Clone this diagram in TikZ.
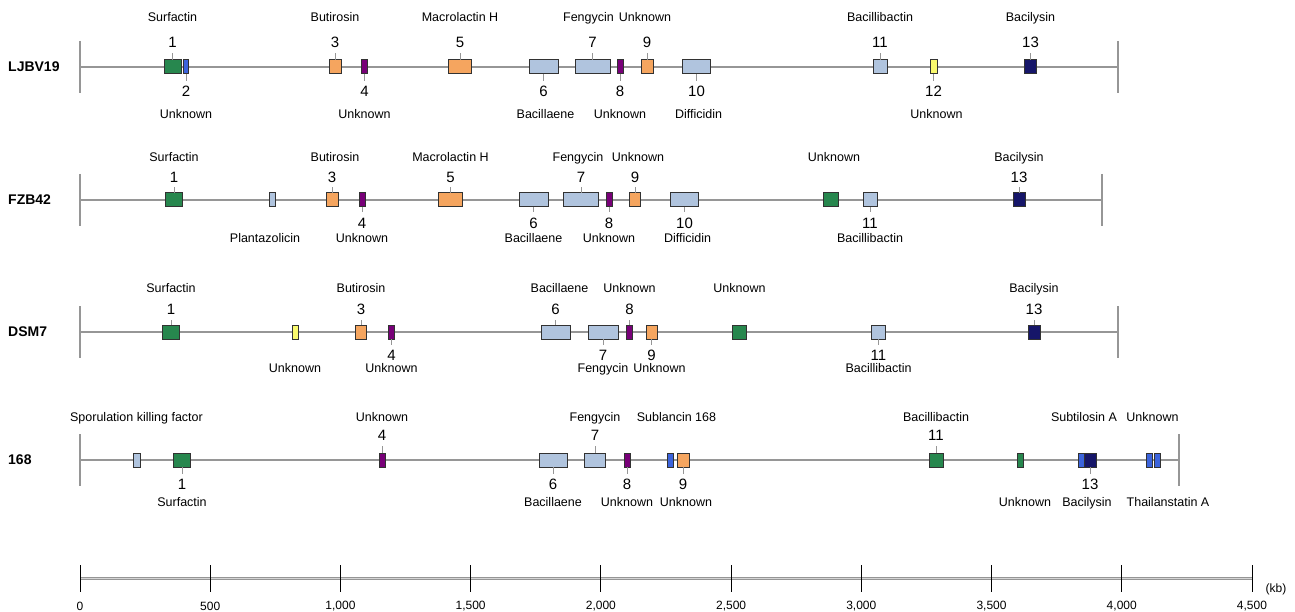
\documentclass[tikz,border=0pt]{standalone}
\usepackage{fontspec}
\setmainfont{Liberation Sans}
\usepackage{tikz}
\usetikzlibrary{positioning}
\definecolor{cgreen}{RGB}{39,135,78}
\definecolor{clblue}{RGB}{176,196,222}
\definecolor{corange}{RGB}{245,165,95}
\definecolor{cpurple}{RGB}{120,0,120}
\definecolor{cnavy}{RGB}{22,22,105}
\definecolor{cblue}{RGB}{60,100,220}
\definecolor{cyellow}{RGB}{250,250,110}
\definecolor{cborder}{RGB}{50,50,50}
\definecolor{cline}{RGB}{150,150,150}

\begin{document}
\begin{tikzpicture}[x=1pt, y=-1pt,
    gene/.style={draw=cborder, line width=1pt, minimum height=14pt, inner sep=0pt, outer sep=0pt},
    genome/.style={draw=cline, line width=1.3pt},
    num/.style={inner sep=0pt, text height=10.7pt, text depth=0pt, font=\fontsize{15}{17}\selectfont},
    cluster/.style={inner sep=0pt, text height=9pt, text depth=0pt, font=\fontsize{12.5}{14}\selectfont},
    ticklink/.style={draw=cline, line width=0.8pt, shorten >=5pt},
    strain/.style={anchor=west, inner sep=0pt, font=\bfseries\fontsize{14}{16}\selectfont},
    scalelab/.style={inner sep=0pt, font=\fontsize{12}{14}\selectfont}]
    \useasboundingbox (0,0) rectangle (1295,612);

    % LJBV19
    \node[strain] (ljbv) at (8,67) {LJBV19};
    \draw[genome] (80,41) -- (80,93);
    \draw[genome] (80,67) -- (1118,67);
    \draw[genome] (1118,41) -- (1118,93);
    \foreach \gid/\gx/\gw/\gcol in {1/172.5/17/cgreen, 2/186/5/cblue, 3/335/12/corange, 4/364.5/6/cpurple,
        5/460/23/corange, 6/543.5/29/clblue, 7/592.5/35/clblue, 8/620/6/cpurple, 9/647/12/corange,
        10/696.5/28/clblue, 11/880/14/clblue, 12/933.5/7/cyellow, 13/1030.5/12/cnavy}
        \node[gene, fill=\gcol, minimum width=\gw pt] (ljbv\gid) at (\gx,67) {};
    \foreach \gid in {1,3,5,7,9,11,13} {
        \node[num, above=12pt of ljbv\gid] (ljbvn\gid) {\gid};
        \draw[ticklink] (ljbv\gid) -- (ljbvn\gid);
    }
    \foreach \gid in {2,4,6,8,10,12} {
        \node[num, below=12pt of ljbv\gid] (ljbvn\gid) {\gid};
        \draw[ticklink] (ljbv\gid) -- (ljbvn\gid);
    }
    \foreach \gid/\gdx/\glab in {1/0/Surfactin, 3/0/Butirosin, 5/0/Macrolactin H, 7/-4/Fengycin,
        9/-2/Unknown, 11/0/Bacillibactin, 13/0/Bacilysin}
        \node[cluster, above=38.5pt of ljbv\gid, xshift=\gdx pt] (ljbvt\gid) {\glab};
    \foreach \gid/\gdx/\glab in {2/0/Unknown, 4/0/Unknown, 6/2/Bacillaene, 8/0/Unknown,
        10/2/Difficidin, 12/3/Unknown}
        \node[cluster, below=35.5pt of ljbv\gid, xshift=\gdx pt] (ljbvt\gid) {\glab};

    % FZB42
    \node[strain] (fzb) at (8,200) {FZB42};
    \draw[genome] (80,174) -- (80,226);
    \draw[genome] (80,200) -- (1102,200);
    \draw[genome] (1102,174) -- (1102,226);
    \foreach \gid/\gx/\gw/\gcol in {1/174/17/cgreen, p/272/6/clblue, 3/332/12/corange, 4/362/6/cpurple,
        5/450.5/24/corange, 6/533.5/29/clblue, 7/581/35/clblue, 8/609/6/cpurple, 9/635/11/corange,
        10/684.5/28/clblue, u/831/15/cgreen, 11/870/14/clblue, 13/1019/12/cnavy}
        \node[gene, fill=\gcol, minimum width=\gw pt] (fzb\gid) at (\gx,200) {};
    \foreach \gid in {1,3,5,7,9,13} {
        \node[num, above=10.5pt of fzb\gid] (fzbn\gid) {\gid};
        \draw[ticklink] (fzb\gid) -- (fzbn\gid);
    }
    \foreach \gid in {4,6,8,10,11} {
        \node[num, below=10.5pt of fzb\gid] (fzbn\gid) {\gid};
        \draw[ticklink] (fzb\gid) -- (fzbn\gid);
    }
    \foreach \gid/\gdx/\glab in {1/0/Surfactin, 3/3/Butirosin, 5/0/Macrolactin H, 7/-3/Fengycin,
        9/3/Unknown, u/3/Unknown, 13/0/Bacilysin}
        \node[cluster, above=31.5pt of fzb\gid, xshift=\gdx pt] (fzbt\gid) {\glab};
    \foreach \gid/\gdx/\glab in {p/-7/Plantazolicin, 4/0/Unknown, 6/0/Bacillaene, 8/0/Unknown,
        10/3/Difficidin, 11/0/Bacillibactin}
        \node[cluster, below=26.5pt of fzb\gid, xshift=\gdx pt] (fzbt\gid) {\glab};

    % DSM7
    \node[strain] (dsm) at (8,332) {DSM7};
    \draw[genome] (80,306) -- (80,358);
    \draw[genome] (80,332) -- (1118,332);
    \draw[genome] (1118,306) -- (1118,358);
    \foreach \gid/\gx/\gw/\gcol in {1/171/17/cgreen, u/295/6/cyellow, 3/361/11.5/corange, 4/391.5/6/cpurple,
        6/555.5/29/clblue, 7/603/30/clblue, 8/629.5/6.5/cpurple, 9/651.5/11/corange,
        v/739.5/14/cgreen, 11/878.5/14/clblue, 13/1034/12/cnavy}
        \node[gene, fill=\gcol, minimum width=\gw pt] (dsm\gid) at (\gx,332) {};
    \foreach \gid in {1,3,6,8,13} {
        \node[num, above=10.5pt of dsm\gid] (dsmn\gid) {\gid};
        \draw[ticklink] (dsm\gid) -- (dsmn\gid);
    }
    \foreach \gid in {4,7,9,11} {
        \node[num, below=10.5pt of dsm\gid] (dsmn\gid) {\gid};
        \draw[ticklink] (dsm\gid) -- (dsmn\gid);
    }
    \foreach \gid/\gdx/\glab in {1/0/Surfactin, 3/0/Butirosin, 6/4/Bacillaene, 8/0/Unknown,
        v/0/Unknown, 13/0/Bacilysin}
        \node[cluster, above=32.5pt of dsm\gid, xshift=\gdx pt] (dsmt\gid) {\glab};
    \foreach \gid/\gdx/\glab in {u/0/Unknown, 4/0/Unknown, 7/0/Fengycin, 9/8/Unknown, 11/0/Bacillibactin}
        \node[cluster, below=24.5pt of dsm\gid, xshift=\gdx pt] (dsmt\gid) {\glab};

    % 168
    \node[strain] (bs) at (8,460) {168};
    \draw[genome] (80,434) -- (80,486);
    \draw[genome] (80,460) -- (1179,460);
    \draw[genome] (1179,434) -- (1179,486);
    \foreach \gid/\gx/\gw/\gcol in {s/136.5/7/clblue, 1/182/17/cgreen, 4/382/6/cpurple, 6/553/28/clblue,
        7/595/21/clblue, 8/627/6/cpurple, l/670.5/6/cblue, 9/683/12/corange, 11/936/14/cgreen,
        u/1020/6/cgreen, a/1081/6/cblue, 13/1090/12/cnavy, v/1149.5/6/cblue, t/1157/6/cblue}
        \node[gene, fill=\gcol, minimum width=\gw pt] (bs\gid) at (\gx,460) {};
    \foreach \gid in {4,7,11} {
        \node[num, above=12pt of bs\gid] (bsn\gid) {\gid};
        \draw[ticklink] (bs\gid) -- (bsn\gid);
    }
    \foreach \gid in {1,6,8,9,13} {
        \node[num, below=12pt of bs\gid] (bsn\gid) {\gid};
        \draw[ticklink] (bs\gid) -- (bsn\gid);
    }
    \foreach \gid/\gdx/\glab in {s/0/Sporulation killing factor, 4/0/Unknown, 7/0/Fengycin,
        l/6/Sublancin 168, 11/0/Bacillibactin, a/3/Subtilosin A, v/3/Unknown}
        \node[cluster, above=31.5pt of bs\gid, xshift=\gdx pt] (bst\gid) {\glab};
    \foreach \gid/\gdx/\glab in {1/0/Surfactin, 6/0/Bacillaene, 8/0/Unknown, 9/3/Unknown,
        u/5/Unknown, 13/-3/Bacilysin, t/11/Thailanstatin A}
        \node[cluster, below=30.5pt of bs\gid, xshift=\gdx pt] (bst\gid) {\glab};

    % scale
    \draw[draw=cline, line width=3pt] (80,578) -- (1252,578);
    \draw[draw=cline!40, line width=1pt] (80,578) -- (1252,578);
    \foreach \k/\lab in {0/0, 500/500, 1000/{1,000}, 1500/{1,500}, 2000/{2,000}, 2500/{2,500},
        3000/{3,000}, 3500/{3,500}, 4000/{4,000}, 4500/{4,500}} {
        \draw[black, line width=0.8pt] (80+0.26044*\k,565) -- (80+0.26044*\k,592);
        \node[scalelab] (kb\k) at (80+0.26044*\k,606) {\lab};
    }
    \node[scalelab] (kbunit) at (1276,589) {(kb)};
\end{tikzpicture}
\end{document}
